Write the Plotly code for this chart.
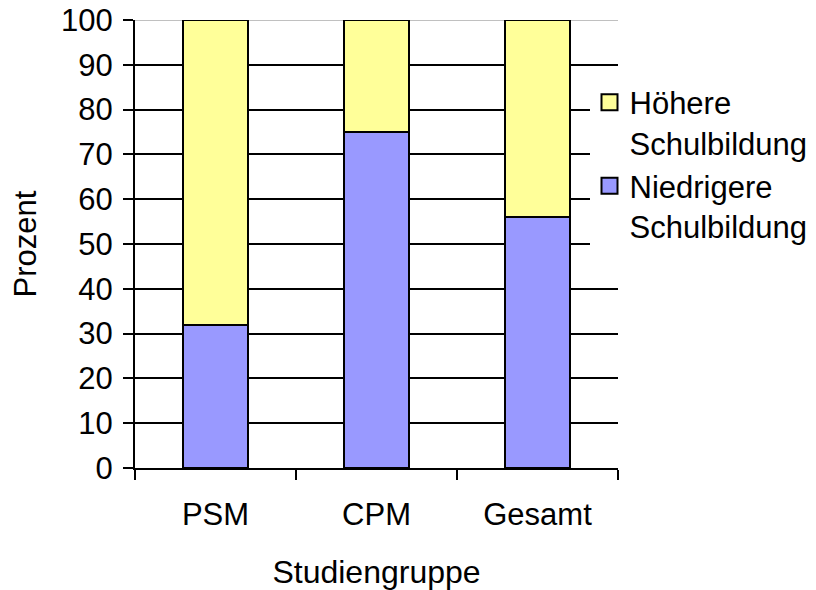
import plotly.graph_objects as go

categories = ["PSM", "CPM", "Gesamt"]
niedrigere = [32, 75, 56]
hoehere = [68, 25, 44]
series_names = ["Höhere<br>Schulbildung", "Niedrigere<br>Schulbildung"]
y_ticks = list(range(0, 101, 10))

YELLOW = "#FFFF99"
BLUE = "#9999FF"
FONT = "Liberation Sans, Arial, sans-serif"

fig = go.Figure()
fig.add_trace(go.Bar(x=categories, y=niedrigere, marker=dict(color=BLUE, line=dict(color="black", width=2)),
                     showlegend=False, width=0.4))
fig.add_trace(go.Bar(x=categories, y=hoehere, marker=dict(color=YELLOW, line=dict(color="black", width=2)),
                     showlegend=False, width=0.4))
# legend entries
for name, col in zip(series_names, [YELLOW, BLUE]):
    fig.add_trace(go.Scatter(x=[None], y=[None], mode="markers", name=name,
                             marker=dict(symbol="square", size=20, color=col, line=dict(color="black", width=2))))

fig.add_shape(type="line", xref="paper", yref="y", x0=0, x1=1, y0=100, y1=100,
              line=dict(color="#c0c0c0", width=2), layer="below")

fig.update_layout(
    width=816, height=590,
    margin=dict(l=135, r=198, t=20, b=122, autoexpand=False),
    barmode="stack",
    plot_bgcolor="white", paper_bgcolor="white",
    font=dict(family=FONT, size=31, color="black"),
    legend=dict(x=0.941, y=0.876, xanchor="left", yanchor="top", bgcolor="white",
                traceorder="normal", font=dict(size=31), itemsizing="trace",
                tracegroupgap=4, valign="top", itemwidth=30),
    xaxis=dict(type="category", tickson="boundaries", ticks="outside", ticklen=10, tickwidth=2,
               tickcolor="black", showline=True, linecolor="black", linewidth=2,
               showgrid=False, automargin=False, ticklabelstandoff=18,
               title=dict(text="Studiengruppe", standoff=29, font=dict(size=32)),
               tickfont=dict(size=31)),
    yaxis=dict(range=[0, 100], tickvals=y_ticks, ticks="outside", ticklen=10, tickwidth=2,
               tickcolor="black", showline=True, linecolor="black", linewidth=2,
               showgrid=True, gridcolor="black", gridwidth=2, zeroline=False, automargin=False,
               ticklabelstandoff=4, ticklabeloverflow="allow",
               title=dict(text="Prozent", standoff=15, font=dict(size=31)), tickfont=dict(size=31)),
)

fig.write_html("out.html", config={"displayModeBar": False},
               post_script="document.body.style.margin='0';document.body.style.overflow='hidden';")
